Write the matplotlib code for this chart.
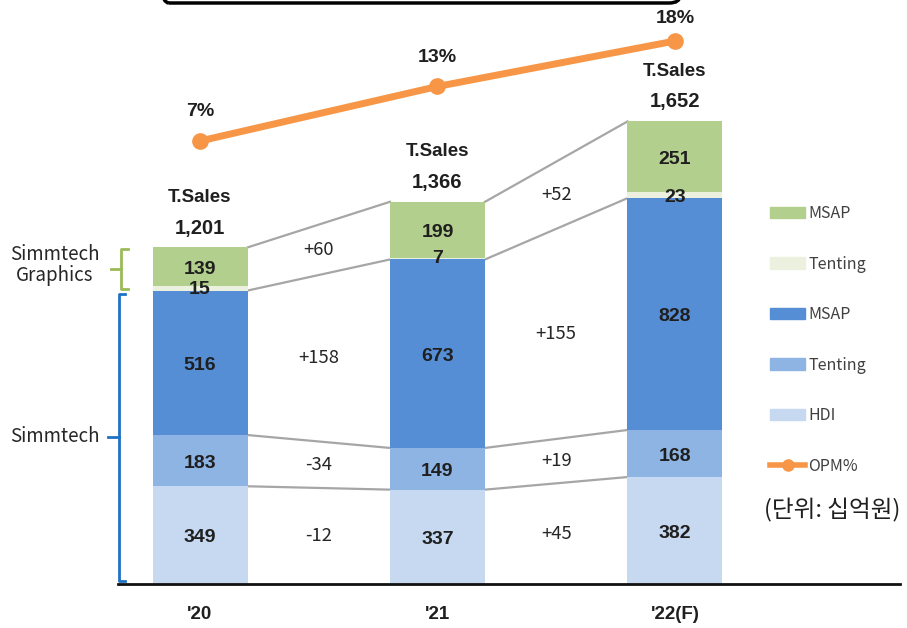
import numpy as np
import matplotlib
matplotlib.use("Agg")
import matplotlib.pyplot as plt
from matplotlib.patches import Patch, FancyBboxPatch
from matplotlib.lines import Line2D

plt.rcParams['font.family'] = ['Noto Sans CJK KR', 'DejaVu Sans']

years = ["'20", "'21", "'22(F)"]
hdi = [349, 337, 382]
tent_st = [183, 149, 168]
msap_st = [516, 673, 828]
tent_g = [15, 7, 23]
msap_g = [139, 199, 251]
totals = [1201, 1366, 1652]
opm = [7, 13, 18]
diff_g = ["+60", "+52"]
diff_msap = ["+158", "+155"]
diff_tent = ["-34", "+19"]
diff_hdi = ["-12", "+45"]

c_hdi = '#c6d9f1'
c_tent_st = '#8eb4e3'
c_msap_st = '#558ed5'
c_tent_g = '#ebf1de'
c_msap_g = '#b3cf8d'
c_opm = '#f79646'
bold_font = ['Liberation Sans Narrow', 'Liberation Sans', 'DejaVu Sans']

fig = plt.figure(figsize=(9.07, 6.28), dpi=100)
ax = fig.add_axes([118/907, 44/628, (900-118)/907, 584/628])
px = 0.28  # pixels per unit
ax.set_ylim(0, 584/px)
ax.set_xlim((118-200)/237.5, (900-200)/237.5)
x = np.arange(3)
w = 0.4

layers = [(hdi, c_hdi), (tent_st, c_tent_st), (msap_st, c_msap_st), (tent_g, c_tent_g), (msap_g, c_msap_g)]
bottoms = [np.zeros(3)]
b = np.zeros(3)
for vals, col in layers:
    ax.bar(x, vals, w, bottom=b, color=col, edgecolor='none', zorder=2)
    b = b + np.array(vals)
    bottoms.append(b.copy())

# labels in bars
for i in range(3):
    for k, (vals, col) in enumerate(layers):
        lo = bottoms[k][i]
        if k == 3:
            yy = lo + 2
        else:
            yy = lo + vals[i] / 2 - 10
        ax.text(x[i], yy, str(vals[i]), ha='center', va='center', fontsize=14,
                fontweight='bold', color='#1f1f1f', family=bold_font, zorder=4)
    ax.annotate("T.Sales", (x[i], totals[i]), xytext=(0, 36), textcoords='offset points',
                ha='center', va='center', fontsize=13.5, fontweight='bold', family=bold_font, color='#1f1f1f')
    ax.annotate(f"{totals[i]:,}", (x[i], totals[i]), xytext=(0, 14), textcoords='offset points',
                ha='center', va='center', fontsize=14.5, fontweight='bold', family=bold_font, color='#1f1f1f')

# connector lines
for k in [1, 2, 3, 5]:
    for i in range(2):
        ax.plot([x[i] + w/2, x[i+1] - w/2], [bottoms[k][i], bottoms[k][i+1]],
                color='#a6a6a6', lw=1.6, zorder=1)

# difference labels
groups = [(0, diff_hdi), (1, diff_tent), (2, diff_msap), (4, diff_g)]
for k, labs in groups:
    for i in range(2):
        m1 = (bottoms[k][i] + bottoms[k+1][i]) / 2
        m2 = (bottoms[k][i+1] + bottoms[k+1][i+1]) / 2
        if k == 4:
            m1 = (bottoms[3][i] + bottoms[5][i]) / 2
            m2 = (bottoms[3][i+1] + bottoms[5][i+1]) / 2
        ax.text(x[i] + 0.5, (m1 + m2) / 2, labs[i], ha='center', va='center',
                fontsize=13.3, color='#262626')

# OPM line
ax2 = ax.twinx()
ppp = 100 / 11
span = 584 / ppp
frac = (584 - 141) / 584
lo = opm[0] - frac * span
ax2.set_ylim(lo, lo + span)
ax2.plot(x, opm, color=c_opm, lw=5, marker='o', ms=11, zorder=5)
for i in range(3):
    ax2.annotate(f"{opm[i]}%", (x[i], opm[i]), xytext=(0, 21 if i < 2 else 16), textcoords='offset points',
                 ha='center', va='center', fontsize=14, fontweight='bold', family=bold_font, color='#1f1f1f')
ax2.axis('off')

for s in ['top', 'right', 'left']:
    ax.spines[s].set_visible(False)
ax.spines['bottom'].set_linewidth(2)
ax.spines['bottom'].set_color('#111111')
ax.set_yticks([])
ax.set_xticks(x)
ax.set_xticklabels(years, fontsize=13.5, fontweight='bold', family=bold_font, color='#1f1f1f')
ax.tick_params(axis='x', length=0, pad=16)

# brackets
xb = (119-200)/237.5
xs = (125-200)/237.5
xt = (108-200)/237.5
yb0, yb1 = 12, bottoms[3][0] - 12
ax.plot([xs, xb, xb, xs], [yb0, yb0, yb1, yb1], color='#1f72c4', lw=2, clip_on=False)
ax.plot([xt, xb], [(yb0+yb1)/2]*2, color='#1f72c4', lw=2, clip_on=False)
xg = (121-200)/237.5
xgs = (128-200)/237.5
xgt = (111-200)/237.5
yg0, yg1 = bottoms[3][0] + 5, bottoms[5][0] - 6
ax.plot([xgs, xg, xg, xgs], [yg0, yg0, yg1, yg1], color='#9bbb59', lw=2, clip_on=False)
ax.plot([xgt, xg], [(yg0+yg1)/2]*2, color='#9bbb59', lw=2, clip_on=False)
fig.text(55/907, 1 - 265/628, "Simmtech\nGraphics", ha='center', va='center', fontsize=13.5,
         color='#262626', linespacing=1.0)
fig.text(55/907, 1 - 436/628, "Simmtech", ha='center', va='center', fontsize=13.5, color='#262626')

# legend
handles = [Patch(color=c_msap_g), Patch(color=c_tent_g), Patch(color=c_msap_st),
           Patch(color=c_tent_st), Patch(color=c_hdi),
           Line2D([], [], color=c_opm, lw=4, marker='o', ms=8)]
labels = ['MSAP', 'Tenting', 'MSAP', 'Tenting', 'HDI', 'OPM%']
leg = fig.legend(handles, labels, loc='upper left', bbox_to_anchor=(770/907, 1 - 205/628),
                 frameon=False, fontsize=11.5, handlelength=2.2, handleheight=0.7,
                 labelspacing=2.1, handletextpad=0.2, borderaxespad=0, borderpad=0)
for t in leg.get_texts():
    t.set_color('#404040')
fig.text(832/907, 1 - 510/628, "(단위: 십억원)", ha='center', va='center', fontsize=17, color='#1f1f1f')

# top box (cut off)
box = FancyBboxPatch((158/907, 1 - 3/628), (680-158)/907, 0.1, transform=fig.transFigure,
                     boxstyle='round,pad=0,rounding_size=0.012', fill=False, lw=2.5, ec='black')
fig.patches.append(box)

fig.savefig('out.png', dpi=100)
